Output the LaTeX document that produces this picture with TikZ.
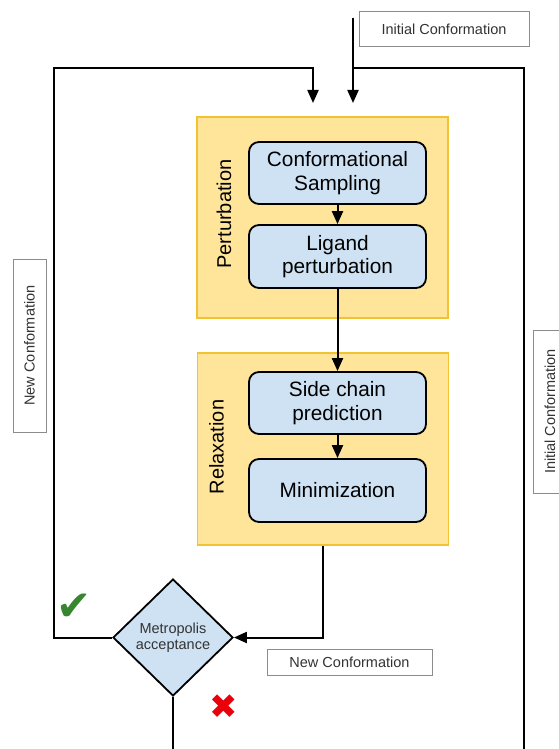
\documentclass[tikz,border=0pt]{standalone}
\usepackage{fontspec}
\setmainfont{Liberation Sans}
\newfontfamily\symfont{DejaVu Sans}
\usetikzlibrary{arrows.meta,shapes.geometric}
\definecolor{yfill}{HTML}{FFE599}
\definecolor{ydraw}{HTML}{F1C232}
\definecolor{bfill}{HTML}{CFE2F3}
\definecolor{lblgray}{HTML}{333333}
\definecolor{boxgray}{HTML}{8C8C8C}
\definecolor{okgreen}{HTML}{38862F}
\definecolor{nored}{HTML}{E8000A}
\begin{document}
\begin{tikzpicture}[x=1pt,y=-1pt,
 stage/.style={draw=ydraw,fill=yfill,line width=1.5pt,minimum width=251pt,inner sep=0pt},
 stepbox/.style={draw=black,fill=bfill,line width=1.8pt,rounded corners=10pt,minimum width=177pt,minimum height=62pt,inner sep=0pt,align=center,font=\fontsize{20.8}{23.5}\selectfont},
 stagelabel/.style={rotate=90,font=\fontsize{20}{24}\selectfont,inner sep=0pt},
 tag/.style={draw=boxgray,line width=1pt,fill=white,inner sep=0pt,text=lblgray,font=\fontsize{14.5}{17}\selectfont},
 decision/.style={draw=black,fill=bfill,line width=1.8pt,diamond,aspect=1,minimum width=120pt,minimum height=117pt,inner sep=0pt,align=center,text=lblgray,font=\fontsize{14.5}{16.5}\selectfont},
 flow/.style={line width=2pt},
 arr/.style={flow,-{Triangle[length=13pt,width=11pt]}},
 ]
\useasboundingbox (0,0) rectangle (559,749);
% stages
\node[stage,minimum height=201pt] (pert) at (322.5,217.5) {};
\node[stage,minimum height=192pt] (relax) at (323,449) {};
\node[stagelabel] (pertlbl) at (224,214) {Perturbation};
\node[stagelabel] (relaxlbl) at (216.5,447) {Relaxation};
% steps
\node[stepbox] (cs) at (337.5,173) {Conformational\\Sampling};
\node[stepbox,minimum height=63pt] (lp) at (337.5,256.5) {Ligand\\perturbation};
\node[stepbox] (sc) at (337.5,403) {Side chain\\prediction};
\node[stepbox,minimum height=63pt] (mn) at (337.5,490.5) {Minimization};
\node[decision] (metro) at (173,637.5) {Metropolis\\acceptance};
% tags
\node[tag,minimum width=170pt,minimum height=35pt] (initTop) at (444,29.5) {Initial Conformation};
\node[tag,minimum width=165pt,minimum height=26pt] (newBot) at (349.5,662) {New Conformation};
\node[tag,rotate=90,minimum width=173pt,minimum height=33pt] (newLeft) at (29.5,345.5) {New Conformation};
\node[tag,rotate=90,minimum width=163pt,minimum height=34pt] (initRight) at (550,411.5) {Initial Conformation};
% marks
\node[text=okgreen,font=\symfont\fontsize{42}{42}\selectfont,inner sep=0pt] (ok) at (74.5,607) {✔};
\node[text=nored,font=\symfont\fontsize{34}{34}\selectfont,inner sep=0pt] (no) at (224,706.5) {✖};
% free ends
\coordinate (inTop) at (353,18);
\coordinate (inTip) at (353,103);
\coordinate (rj) at (353,68);
\coordinate (rightBot) at (524,749);
\coordinate (lc) at (54,68);
\coordinate (loopTip) at (313,103);
\coordinate (downBot) at (173,749);
% connectors
\draw[arr] (inTop) -- (inTip);
\draw[flow] (rj) -| (rightBot);
\draw[arr] (metro.west) -| (lc) -| (loopTip);
\draw[arr] (cs) -- (lp);
\draw[arr] (lp) -- (sc);
\draw[arr] (sc) -- (mn);
\draw[arr] (relax.south) |- (metro.east);
\draw[flow] (metro.south) -- (downBot);
\end{tikzpicture}
\end{document}
